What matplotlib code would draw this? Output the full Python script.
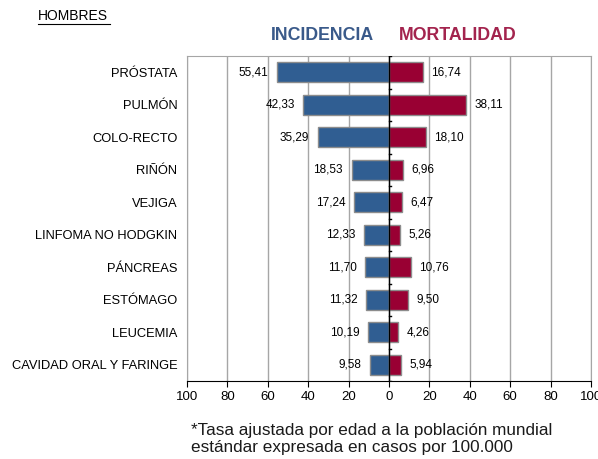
import matplotlib.pyplot as plt
import numpy as np

plt.rcParams["font.family"] = ["Liberation Sans", "DejaVu Sans"]

# Datos (tasa ajustada por edad, casos por 100.000)
categorias = [
    "PRÓSTATA",
    "PULMÓN",
    "COLO-RECTO",
    "RIÑÓN",
    "VEJIGA",
    "LINFOMA NO HODGKIN",
    "PÁNCREAS",
    "ESTÓMAGO",
    "LEUCEMIA",
    "CAVIDAD ORAL Y FARINGE",
]
incidencia = [55.41, 42.33, 35.29, 18.53, 17.24, 12.33, 11.70, 11.32, 10.19, 9.58]
mortalidad = [16.74, 38.11, 18.10, 6.96, 6.47, 5.26, 10.76, 9.50, 4.26, 5.94]

col_inc = "#305E92"
col_mort = "#990033"

fig = plt.figure(figsize=(5.98, 4.59), dpi=100)
ax = fig.add_axes([187 / 598, 1 - 381 / 459, 404 / 598, 325 / 459])

y = np.arange(len(categorias))
alto = 0.62

ax.barh(y, [-v for v in incidencia], height=alto, color=col_inc,
        edgecolor="#8C8C8C", linewidth=1.0, zorder=3)
ax.barh(y, mortalidad, height=alto, color=col_mort,
        edgecolor="#8C8C8C", linewidth=1.0, zorder=3)


def fmt(v):
    return f"{v:.2f}".replace(".", ",")


for i, (a, b) in enumerate(zip(incidencia, mortalidad)):
    ax.text(-a - 4.3, i, fmt(a), ha="right", va="center", fontsize=8.5, zorder=4)
    ax.text(b + 4.3, i, fmt(b), ha="left", va="center", fontsize=8.5, zorder=4)

ax.set_xlim(-100, 100)
ax.set_ylim(len(categorias) - 0.5, -0.5)
ax.set_xticks(np.arange(-100, 101, 20))
ax.set_xticklabels([str(abs(t)) for t in range(-100, 101, 20)], fontsize=9.5)
ax.set_yticks(y)
ax.set_yticklabels(categorias, fontsize=9.3)
ax.tick_params(axis="y", length=0, pad=7)
ax.tick_params(axis="x", length=4, direction="out", color="black")
ax.xaxis.grid(True, color="#A6A6A6", linewidth=1.0, zorder=0)

for s in ["top", "left", "right"]:
    ax.spines[s].set_color("#A6A6A6")
ax.spines["bottom"].set_color("black")

# eje central con marcas entre categorías
ax.axvline(0, color="black", linewidth=1.0, zorder=5)
for k in np.arange(-0.5, len(categorias), 1.0):
    ax.plot([0, 1.2], [k, k], color="black", linewidth=1.0, zorder=5)

fig.text(38 / 598, 1 - 16 / 459, "HOMBRES", fontsize=10, ha="left", va="center")
fig.add_artist(plt.Line2D([38 / 598, 110 / 598], [1 - 24 / 459, 1 - 24 / 459],
                          color="black", linewidth=0.8))
fig.text(322 / 598, 1 - 36 / 459, "INCIDENCIA", fontsize=12.8, fontweight="bold",
         color="#3A5A8A", ha="center", va="center")
fig.text(458 / 598, 1 - 36 / 459, "MORTALIDAD", fontsize=12.8, fontweight="bold",
         color="#A3244E", ha="center", va="center")

fig.text(191 / 598, 1 - 439 / 459, "*Tasa ajustada por edad a la población mundial\n"
         "estándar expresada en casos por 100.000", fontsize=12.3, ha="left",
         va="center", color="#1A1A1A", linespacing=1.2)

fig.savefig("out.png", dpi=100)
